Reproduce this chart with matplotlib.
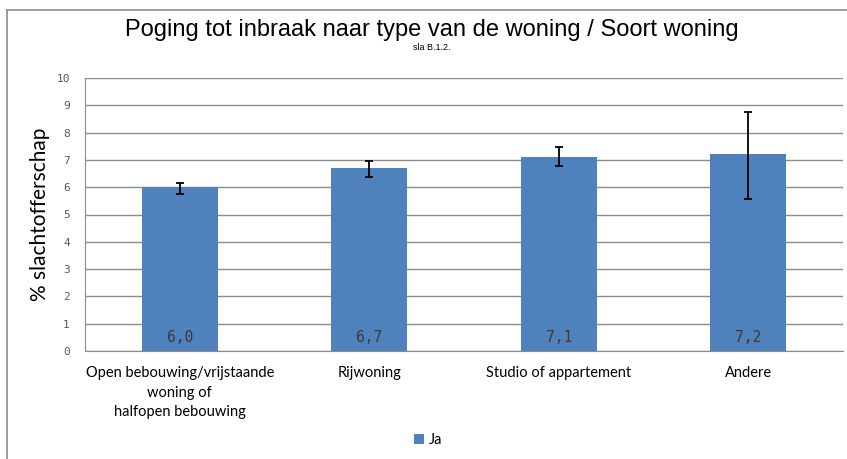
import numpy as np
import matplotlib.pyplot as plt
from matplotlib.lines import Line2D

# Poging tot inbraak per woningtype, met betrouwbaarheidsinterval
categories = ["Open bebouwing/vrijstaande\nwoning of\nhalfopen bebouwing",
              "Rijwoning", "Studio of appartement", "Andere"]
values = [6.0, 6.7, 7.1, 7.2]
ci_low = [5.75, 6.38, 6.79, 5.57]
ci_high = [6.16, 6.96, 7.48, 8.77]
value_labels = ["6,0", "6,7", "7,1", "7,2"]
yticks = list(range(0, 11))

bar_color = "#4F81BD"
grid_color = "#8C8C8C"

fig = plt.figure(figsize=(8.47, 4.59), dpi=100)
ax = fig.add_axes([85 / 847, 108 / 459, 758 / 847, 273 / 459])

x = np.arange(len(categories))
vals = np.array(values)
yerr = np.vstack([vals - np.array(ci_low), np.array(ci_high) - vals])

ax.bar(x, vals, width=0.4, color=bar_color, zorder=2, label="Ja")
ax.errorbar(x, vals, yerr=yerr, fmt="none", ecolor="black", elinewidth=1.3,
            capsize=3.2, capthick=1.3, zorder=3)

for xi, lab in zip(x, value_labels):
    ax.text(xi, 0.5, lab, ha="center", va="center", fontsize=10.5,
            family="DejaVu Sans Mono", color="#3a3a3a", zorder=4)

ax.set_xlim(-0.5, len(categories) - 0.5)
ax.set_ylim(0, 10)
ax.set_yticks(yticks)
ax.set_yticklabels([str(t) for t in yticks], family="DejaVu Sans Mono",
                   fontsize=8, color="#595959")
ax.set_xticks(x)
ax.set_xticklabels(categories, family="Lato", fontsize=10.5, color="black",
                   linespacing=1.5, va="top")
ax.tick_params(axis="both", length=0)
ax.tick_params(axis="y", pad=11)
ax.tick_params(axis="x", pad=11)

ax.yaxis.grid(True, color=grid_color, linewidth=1.0, zorder=0)
ax.set_axisbelow(True)
for side in ["top", "right"]:
    ax.spines[side].set_visible(False)
ax.spines["left"].set_color(grid_color)
ax.spines["bottom"].set_color(grid_color)

ax.set_ylabel("% slachtofferschap", family="Lato", fontsize=15)
ax.yaxis.set_label_coords(-35 / 758, 0.5)

fig.text(432 / 847, 1 - 30 / 459, "Poging tot inbraak naar type van de woning / Soort woning",
         ha="center", va="center", fontsize=17, family="Liberation Sans")
fig.text(432 / 847, 1 - 47 / 459, "sla B.1.2.", ha="center", va="center",
         fontsize=6.5, family="Liberation Sans")

fig.legend(loc="center", bbox_to_anchor=(428 / 847, 1 - 440 / 459), frameon=False,
           prop={"family": "Lato", "size": 10.5}, handlelength=0.7, handleheight=0.7,
           handletextpad=0.3)

# Kaderlijnen links en boven
fig.add_artist(Line2D([7 / 847, 7 / 847], [0, 1 - 10 / 459], color="#8C8C8C", linewidth=1.2))
fig.add_artist(Line2D([7 / 847, 1], [1 - 10 / 459, 1 - 10 / 459], color="#8C8C8C", linewidth=1.2))

fig.savefig("out.png", dpi=100)
